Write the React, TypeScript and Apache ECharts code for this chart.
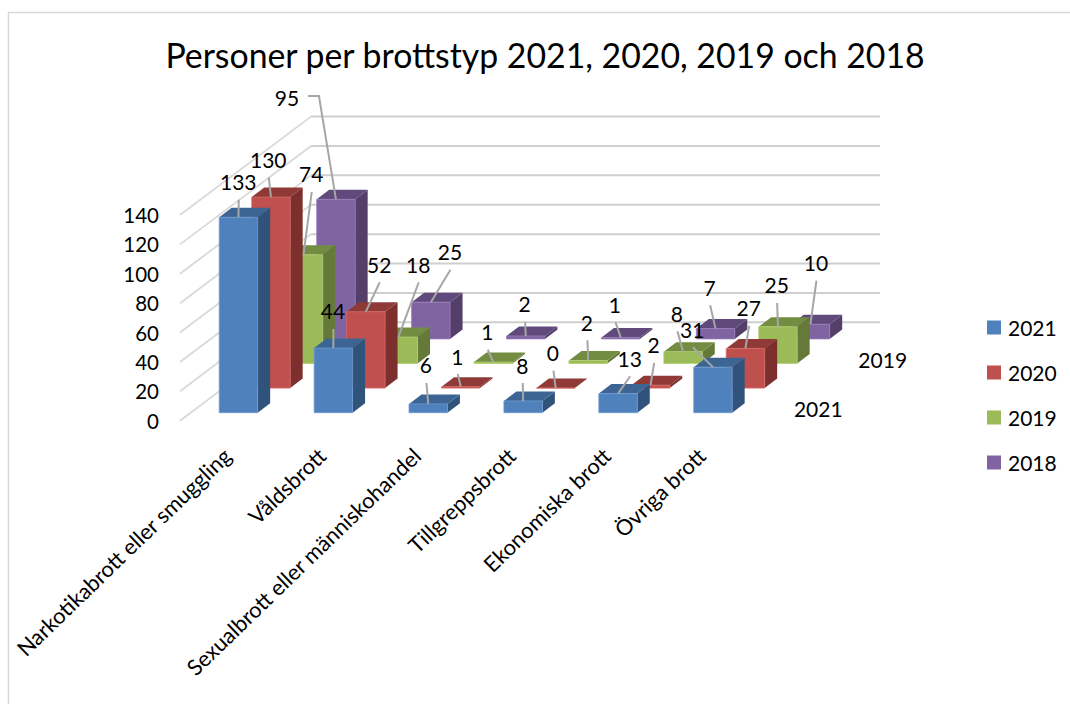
import React, { useEffect, useRef } from "react";
import * as echarts from "echarts";

const categories = [
  "Narkotikabrott eller smuggling",
  "Våldsbrott",
  "Sexualbrott eller människohandel",
  "Tillgreppsbrott",
  "Ekonomiska brott",
  "Övriga brott",
];
const values2021 = [133, 44, 6, 8, 13, 31];
const values2020 = [130, 52, 1, 0, 2, 27];
const values2019 = [74, 18, 1, 2, 8, 25];
const values2018 = [95, 25, 2, 1, 7, 10];
const yTicks = [0, 20, 40, 60, 80, 100, 120, 140];
const seriesNames = ["2021", "2020", "2019", "2018"];
const depthLabels = ["2021", "2019"];

const FONT = "Lato, Carlito, Calibri, sans-serif";

// Oblique projection used for the 3D look (pixels)
const ROW_DX = 32.5;
const ROW_DY = -24.6;
const FRONT_BASE_LIFT = 8;
const BAR_RATIO = 0.405;
const BAR_DEPTH_X = 12.5;
const BAR_DEPTH_Y = -9.5;
const WALL_DX = 131;
const WALL_DY = -98.4;
const WALL_LEFT_X = 180;
const WALL_RIGHT_X = 880;

const rowColors = [
  { front: "#4f81bd", top: "#3c6594", side: "#30537c", edge: "#6f9ad0" },
  { front: "#c0504d", top: "#8f3a37", side: "#7c2f2d", edge: "#d56a67" },
  { front: "#9bbb59", top: "#728c42", side: "#657a38", edge: "#b3d070" },
  { front: "#8064a2", top: "#604a7c", side: "#543f6b", edge: "#957ab5" },
];

// Hand-placed data label offsets from the bar's front-top centre: rows 2021..2018
const labelOffsets: number[][][] = [
  [[-0.2, -35.6], [-0.4, -37.1], [-2.3, -38.9], [-0.9, -35.9], [11.6, -35.3], [-20.7, -37.9]],
  [[-2.7, -37.8], [13.4, -47.4], [-3.5, -30.6], [-2.7, -35.4], [3.1, -40.2], [3.2, -40.7]],
  [[7.8, -80.8], [19.9, -72.8], [-6, -30.3], [-1.2, -38.3], [-6.1, -38.4], [-1.3, -41.8]],
  [[-49, -101.6], [19.1, -50.5], [-1.1, -32], [-5.7, -33.4], [-5.9, -41.3], [5.5, -61.5]],
];

const rows = [values2021, values2020, values2019, values2018];

function rowOrigin(k: number) {
  return { dx: ROW_DX * k, dy: -FRONT_BASE_LIFT + ROW_DY * k };
}

function makeBarRender(k: number) {
  const c = rowColors[k];
  const o = rowOrigin(k);
  return (_p: any, api: any) => {
    const i = api.value(0);
    const v = api.value(1);
    const base = api.coord([i, 0]);
    const top = api.coord([i, v]);
    const hw = (api.size([1, 0])[0] * BAR_RATIO) / 2;
    const l = base[0] + o.dx - hw;
    const r = base[0] + o.dx + hw;
    const by = base[1] + o.dy;
    const ty = top[1] + o.dy;
    const dx = BAR_DEPTH_X;
    const dy = BAR_DEPTH_Y;
    return {
      type: "group",
      children: [
        {
          type: "polygon",
          shape: { points: [[r, ty], [r + dx, ty + dy], [r + dx, by + dy], [r, by]] },
          style: { fill: c.side },
        },
        {
          type: "polygon",
          shape: { points: [[l, ty], [r, ty], [r + dx, ty + dy], [l + dx, ty + dy]] },
          style: { fill: c.top },
        },
        {
          type: "polygon",
          shape: { points: [[l, ty], [r, ty], [r, by], [l, by]] },
          style: { fill: c.front, stroke: c.edge, lineWidth: 0.8 },
        },
      ],
    };
  };
}

const labelData: number[][] = [];
rows.forEach((row, k) => row.forEach((v, i) => labelData.push([i, v, k])));

function renderLabel(_p: any, api: any) {
  const i = api.value(0);
  const v = api.value(1);
  const k = api.value(2);
  const o = rowOrigin(k);
  const top = api.coord([i, v]);
  const ax = top[0] + o.dx;
  const ay = top[1] + o.dy;
  const off = labelOffsets[k][i];
  const lx = ax + off[0];
  const ly = ay + off[1];
  // the label of the tallest back bar leaves sideways with an elbow
  const sideways = off[1] < -90;
  const pts = sideways
    ? [[lx + 21, ly - 1.7], [lx + 32, ly - 1.7], [ax, ay]]
    : [[lx + 0.5, ly + 18], [ax, ay]];
  return {
    type: "group",
    children: [
      {
        type: "polyline",
        shape: { points: pts },
        style: { stroke: "#a6a6a6", lineWidth: 2, fill: "none" },
      },
      {
        type: "text",
        style: {
          text: String(v),
          x: lx,
          y: ly,
          align: "center",
          verticalAlign: "middle",
          fill: "#000",
          font: `21px ${FONT}`,
        },
      },
    ],
  };
}

function renderWall(_p: any, api: any) {
  const v = api.value(0);
  const y = api.coord([0, v])[1];
  return {
    type: "group",
    children: [
      {
        type: "polyline",
        shape: {
          points: [
            [WALL_LEFT_X, y],
            [WALL_LEFT_X + WALL_DX, y + WALL_DY],
          ],
        },
        style: { stroke: "#d9d9d9", lineWidth: 1.8, fill: "none" },
      },
      {
        type: "polyline",
        shape: {
          points: [
            [WALL_LEFT_X + WALL_DX, y + WALL_DY],
            [WALL_RIGHT_X, y + WALL_DY],
          ],
        },
        style: { stroke: "#cfcfcf", lineWidth: 2, fill: "none" },
      },
    ],
  };
}

export default function App() {
  const ref = useRef<HTMLDivElement>(null);
  useEffect(() => {
    if (!ref.current) return;
    const chart = echarts.init(ref.current, undefined, { renderer: "svg" });
    const barSeries = [3, 2, 1, 0].map((k) => ({
      type: "custom" as const,
      name: seriesNames[k],
      renderItem: makeBarRender(k),
      itemStyle: { color: rowColors[k].front },
      encode: { x: 0, y: 1 },
      data: rows[k].map((v, i) => [i, v]),
      z: 3,
    }));
    chart.setOption({
      animation: false,
      backgroundColor: "#fff",
      title: {
        text: "Personer per brottstyp 2021, 2020, 2019 och 2018",
        left: 540,
        top: 33,
        textAlign: "center",
        textStyle: { fontFamily: FONT, fontSize: 33.8, fontWeight: "normal", color: "#000" },
      },
      grid: { left: 191, top: 215, width: 569.4, height: 205.7 },
      xAxis: {
        type: "category",
        data: categories,
        axisLine: { show: false },
        axisTick: { show: false },
        axisLabel: {
          interval: 0,
          rotate: 44,
          margin: 20,
          padding: [0, 16, 0, 0],
          color: "#000",
          fontFamily: FONT,
          fontSize: 21.8,
        },
      },
      yAxis: {
        type: "value",
        min: 0,
        max: 140,
        interval: 20,
        axisLine: { show: false },
        axisTick: { show: false },
        splitLine: { show: false },
        axisLabel: { margin: 32, color: "#000", fontFamily: FONT, fontSize: 20.5 },
      },
      legend: {
        data: seriesNames,
        orient: "vertical",
        left: 982,
        top: 311,
        itemWidth: 14,
        itemHeight: 14,
        itemGap: 22,
        icon: "rect",
        textStyle: { fontFamily: FONT, fontSize: 21, color: "#000", padding: [0, 0, 0, 2], lineHeight: 23 },
      },
      graphic: [
        {
          type: "polyline",
          silent: true,
          shape: { points: [[8.5, 704], [8.5, 12.5], [1070, 12.5]] },
          style: { stroke: "#d9d9d9", lineWidth: 1.5, fill: "none" },
        },
        {
          type: "text",
          x: 882.7,
          y: 359.5,
          style: { text: depthLabels[1], align: "center", verticalAlign: "middle", fill: "#000", font: `21px ${FONT}` },
        },
        {
          type: "text",
          x: 818.3,
          y: 408.3,
          style: { text: depthLabels[0], align: "center", verticalAlign: "middle", fill: "#000", font: `21px ${FONT}` },
        },
      ],
      series: [
        {
          type: "custom",
          name: "Rutnät",
          renderItem: renderWall,
          encode: { y: 0 },
          data: yTicks.map((t) => [t]),
          silent: true,
          z: 1,
        },
        ...barSeries,
        {
          type: "custom",
          name: "Etiketter",
          renderItem: renderLabel,
          encode: { x: 0, y: 1 },
          data: labelData,
          silent: true,
          z: 5,
        },
      ],
    });
    return () => chart.dispose();
  }, []);
  return (
    <div
      ref={ref}
      style={{ position: "fixed", left: 0, top: 0, width: 1070, height: 704, background: "#fff" }}
    />
  );
}
